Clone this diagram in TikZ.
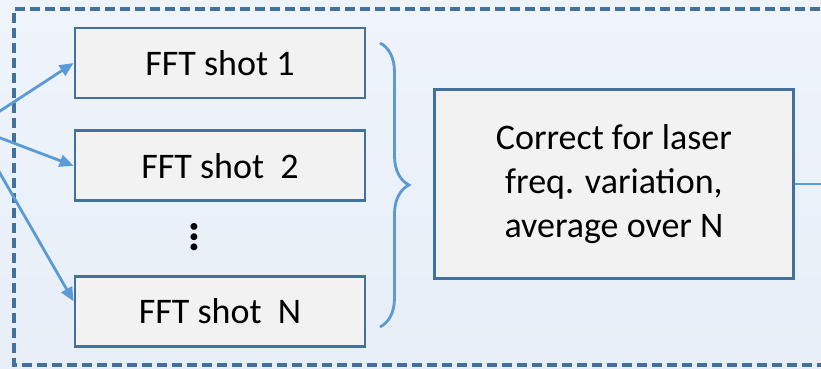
\documentclass[tikz,border=0pt]{standalone}
\usepackage{fontspec}
\setmainfont{Carlito}
\usetikzlibrary{arrows.meta,calc,positioning,decorations.pathreplacing}
\definecolor{frameblue}{HTML}{41719C}
\definecolor{lineblue}{HTML}{5B9BD5}
\definecolor{boxgray}{HTML}{F2F2F2}
\definecolor{bgtop}{HTML}{EFF4FB}
\definecolor{bgbot}{HTML}{E7EEF7}
\tikzset{shot/.style={draw=frameblue, fill=boxgray, line width=2.8pt, minimum width=290pt, minimum height=70pt, inner sep=0pt}}
\tikzstyle{corr}=[shot, minimum width=359pt, minimum height=189pt, align=center]
\tikzstyle{feed}=[draw=lineblue, line width=2.8pt]

\begin{document}
\begin{tikzpicture}[x=1pt, y=1pt, node distance=30pt, font=\fontsize{36}{44}\selectfont,
	>={Triangle[length=14pt,width=12pt]}]
\useasboundingbox (0,0) rectangle (821,368);
\clip (0,0) rectangle (821,368);
\shade[top color=bgtop, bottom color=bgbot] (0,0) rectangle (821,368);
% dashed frame, runs on past the right edge
\draw[frameblue, line width=3.4pt, dash pattern=on 10pt off 5pt] (850,359) -- (14,359) -- (14,3) -- (850,3);

\coordinate (src) at (-26,240);
\node[shot] (shot1) at (220,305) {FFT shot 1};
\node[shot, below=of shot1] (shot2) {FFT shot\ \ 2};
\node[shot, below=73pt of shot2] (shotN) {FFT shot\ \ N};
\node[inner sep=0pt, rotate=90, text height=0.13em, text depth=0pt,
	font=\fontsize{46}{46}\selectfont\bfseries] (dots) at (197,131) {…};

\draw[feed, ->] (src) -- (shot1.west);
\draw[feed, ->] (src) -- (shot2.west);
\draw[feed, ->] (src) -- (shotN.176);

% brace over the N shots
\draw[feed, decorate, decoration={brace, amplitude=29pt}] (380,325) -- (380,41);
\coordinate (tip) at (409,184);
\node[corr, right=24pt of tip] (avg) {Correct for laser\\freq. variation,\\average over N};

\coordinate (out) at (840,184);
\draw[feed] (avg.east) -- (out);
\end{tikzpicture}
\end{document}
